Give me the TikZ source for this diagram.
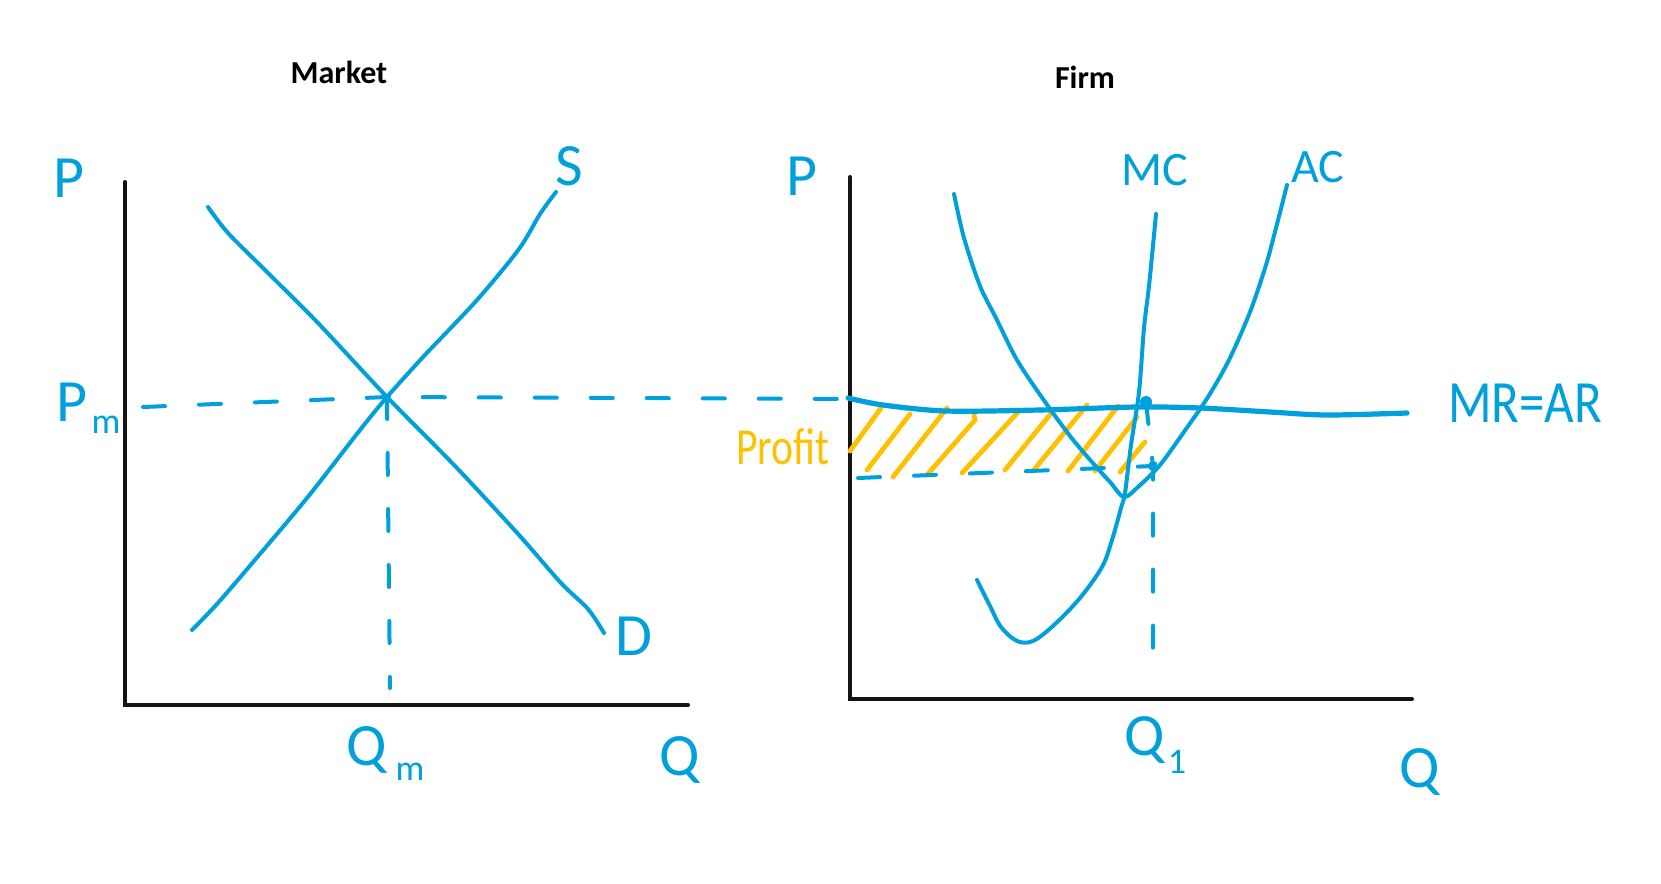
\documentclass[tikz,border=0pt]{standalone}
\usepackage{fontspec}
\setmainfont{Carlito}
\definecolor{hblue}{RGB}{0,160,220}
\definecolor{hgold}{RGB}{255,192,0}
\begin{document}
\begin{tikzpicture}[x=0.5pt,y=-0.5pt,
  axisline/.style={line width=2pt, black!92, line cap=round, line join=miter},
  curve/.style={hblue, line width=2pt, line cap=round, line join=round},
  mrline/.style={hblue, line width=2.6pt, line cap=round, line join=round},
  dashline/.style={hblue, line width=2pt, line cap=round, dash pattern=on 11pt off 17pt},
  hatch/.style={hgold, line width=2.4pt, line cap=round},
  lab/.style={text=hblue, inner sep=0pt, font=\fontsize{30}{30}\selectfont},
  smalllab/.style={text=hblue, inner sep=0pt, font=\fontsize{24}{24}\selectfont},
  subl/.style={text=hblue, inner sep=0pt, font=\fontsize{18}{18}\selectfont},
  ttl/.style={inner sep=0pt, font=\bfseries\fontsize{16}{16}\selectfont}
]
\useasboundingbox[fill=white] (0,0) rectangle (1661,884);

% titles
\node[ttl] (tmarket) at (339,72) {Market};
\node[ttl] (tfirm) at (1085,77) {Firm};

% ---------------- Market ----------------
\coordinate (LO) at (125,705);
\coordinate (Ltop) at (125,182);
\coordinate (Lright) at (688,705);
\draw[axisline] (Ltop) -- (LO) -- (Lright);

\coordinate (eqm) at (387,397);
% supply
\draw[curve] plot[smooth, tension=0.5] coordinates {(192,630) (217,604) (254,561) (307,498) (360,430) (387,397) (424,356) (477,300) (519,249) (540,214) (556,192)};
% demand
\draw[curve] plot[smooth, tension=0.5] coordinates {(208,207) (228,233) (265,270) (318,323) (387,397) (455,466) (519,535) (561,583) (588,609) (604,633)};

\coordinate (pmL) at (143,407);
\coordinate (pmR) at (847,399);
\coordinate (qmB) at (390,688);
\draw[dashline] (pmL) -- (eqm) -- (pmR);
\draw[dashline] (eqm) -- (qmB);

\node[lab] (lP) at (69,178) {P};
\node[lab] (lPm) at (72,402) {P};
\node[subl] (lPmsub) at (106,425) {m};
\node[lab] (lS) at (569,166) {S};
\node[lab] (lD) at (634,636) {D};
\node[lab] (lQm) at (367,750) {Q};
\node[subl] (lQmsub) at (410,772) {m};
\node[lab] (lQ) at (680,760) {Q};

% ---------------- Firm ----------------
\coordinate (RO) at (850,699);
\coordinate (Rtop) at (850,177);
\coordinate (Rright) at (1412,699);
\draw[axisline] (Rtop) -- (RO) -- (Rright);

% profit hatching
\draw[hatch] (850,451) -- (881,408);
\draw[hatch] (867,470) -- (910,414);
\draw[hatch] (893,477) -- (947,408);
\draw[hatch] (927,475) -- (975,420) -- (974,415);
\draw[hatch] (962,473) -- (1020,410);
\draw[hatch] (1005,470) -- (1053,411);
\draw[hatch] (1033,471) -- (1087,405);
\draw[hatch] (1068,471) -- (1118,406);
\draw[hatch] (1095,471) -- (1137,417);
\draw[hatch] (1120,472) -- (1145,442);

% MC
\draw[curve] plot[smooth, tension=0.55] coordinates {(977,580) (990,606) (1001,627) (1017,641) (1033,641) (1054,625) (1080,598) (1102,567) (1112,540) (1121,508) (1125,493) (1131,445) (1139,392) (1144,328) (1149,286) (1154,235) (1156,214)};
% AC
\draw[curve] plot[smooth, tension=0.5] coordinates {(954,194) (964,238) (980,286) (996,318) (1017,360) (1043,399) (1070,436) (1091,461) (1110,482) (1124,497) (1139,486) (1160,465) (1186,429) (1208,397) (1229,360) (1250,312) (1266,265) (1276,228) (1287,185)};

% MR = AR
\coordinate (mrS) at (848,398);
\coordinate (mrE) at (1407,413);
\draw[mrline] plot[smooth, tension=0.5] coordinates {(mrS) (883,405) (946,411) (1040,410) (1137,407) (1200,408) (1270,412) (1327,415) (mrE)};

% AC level dashed and Q1 dashed
\coordinate (acL) at (858,478);
\coordinate (acQ) at (1153,466);
\coordinate (mrQ) at (1146,402);
\coordinate (q1B) at (1153,672);
\draw[dashline] (acL) -- (acQ);
\draw[dashline] (mrQ) -- (acQ) -- (q1B);
\fill[hblue] (mrQ) circle[radius=6];
\fill[hblue] (acQ) circle[radius=5];

\node[lab] (rP) at (802,176) {P};
\node[smalllab] (rMC) at (1155,170) {MC};
\node[smalllab] (rAC) at (1318,167) {AC};
\node[lab] (rMR) at (1525,403) {\scalebox{0.85}[1]{MR=AR}};
\node[text=hgold, inner sep=0pt, font=\fontsize{26}{26}\selectfont] (rProfit) at (783,447) {\scalebox{0.8}[1]{Profit}};
\node[lab] (rQ1) at (1145,740) {Q};
\node[subl] (rQ1sub) at (1177,762) {1};
\node[lab] (rQ) at (1420,772) {Q};
\end{tikzpicture}
\end{document}
